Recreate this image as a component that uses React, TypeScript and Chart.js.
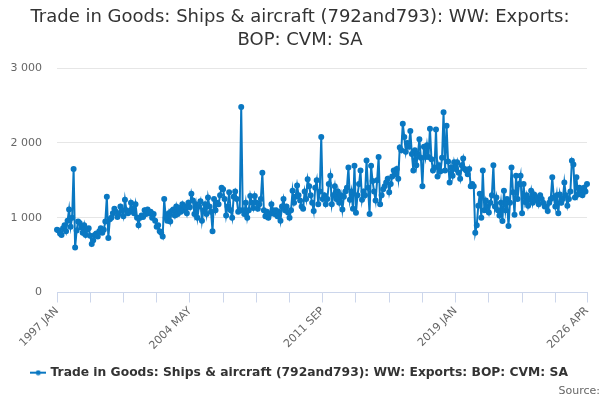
import { useEffect, useRef } from 'react';
import Chart from 'chart.js/auto';

const FONT = '"DejaVu Sans", sans-serif';
const LINE = '#0a78c2';
const AXIS = '#666666';
const GRID = '#e6e6e6';

const MONTHS = ['JAN', 'FEB', 'MAR', 'APR', 'MAY', 'JUN', 'JUL', 'AUG', 'SEP', 'OCT', 'NOV', 'DEC'];
const FIRST_YEAR = 1997;
const LAST_YEAR = 2026;
const LAST_MONTHS = 4; // 2026 runs to APR
const LABELLED = ['1997 JAN', '2004 MAY', '2011 SEP', '2019 JAN', '2026 APR'];
const Y_TICKS = [0, 1000, 2000, 3000];

// monthly values, £m, one row per year
const V1997 = [840, 830, 790, 770, 860, 900, 820, 960, 1110, 880, 1000, 1650];
const V1998 = [600, 830, 950, 930, 870, 800, 900, 770, 840, 860, 760, 650];
const V1999 = [700, 770, 790, 750, 820, 860, 800, 840, 950, 1280, 730, 980];
const V2000 = [1000, 1060, 1120, 1080, 1010, 1050, 1150, 1100, 1020, 1240, 1100, 1060];
const V2001 = [1080, 1200, 1120, 1060, 1180, 1000, 900, 1000, 1030, 1010, 1100, 1050];
const V2002 = [1110, 1060, 1080, 1000, 1050, 960, 880, 900, 820, 800, 750, 1250];
const V2003 = [1000, 960, 1060, 950, 1090, 1110, 1030, 1150, 1050, 1130, 1080, 1180];
const V2004 = [1100, 1150, 1060, 1200, 1140, 1320, 1230, 1050, 1180, 1000, 1150, 1220];
const V2005 = [960, 1100, 1180, 1050, 1270, 1150, 1080, 820, 1250, 1100, 1200, 1180];
const V2006 = [1300, 1400, 1380, 1250, 1030, 1150, 1340, 1100, 1000, 1280, 1350, 1250];
const V2007 = [1080, 1100, 2480, 1100, 1050, 1200, 1000, 1100, 1290, 1200, 1130, 1290];
const V2008 = [1200, 1120, 1180, 1250, 1600, 1100, 1020, 1080, 1000, 1050, 1180, 1100];
const V2009 = [1050, 1100, 1020, 1080, 960, 1150, 1250, 1100, 1150, 1070, 1000, 1100];
const V2010 = [1360, 1200, 1280, 1430, 1300, 1230, 1150, 1120, 1350, 1250, 1515, 1420];
const V2011 = [1300, 1200, 1090, 1400, 1500, 1180, 1350, 2080, 1250, 1300, 1180, 1250];
const V2012 = [1450, 1560, 1180, 1300, 1420, 1250, 1350, 1200, 1300, 1110, 1280, 1350];
const V2013 = [1400, 1670, 1240, 1350, 1120, 1695, 1065, 1300, 1450, 1630, 1240, 1350];
const V2014 = [1300, 1765, 1400, 1050, 1695, 1490, 1350, 1230, 1500, 1810, 1180, 1300];
const V2015 = [1380, 1420, 1470, 1520, 1340, 1450, 1550, 1630, 1580, 1650, 1520, 1940];
const V2016 = [1900, 2255, 2080, 1880, 2000, 1950, 2160, 1850, 1630, 1900, 1700, 1850];
const V2017 = [2050, 1800, 1420, 1950, 1810, 1970, 1810, 2190, 1780, 1630, 1670, 2180];
const V2018 = [1550, 1700, 1620, 1800, 2410, 1630, 2230, 1750, 1470, 1670, 1560, 1740];
const V2019 = [1650, 1740, 1600, 1520, 1700, 1790, 1650, 1630, 1580, 1650, 1420, 1450];
const V2020 = [1420, 800, 900, 1160, 1320, 1000, 1630, 1100, 1230, 1150, 1070, 1200];
const V2021 = [1300, 1700, 1150, 1270, 1100, 1030, 1200, 955, 1360, 1100, 1250, 890];
const V2022 = [1200, 1670, 1340, 1040, 1560, 1250, 1450, 1560, 1060, 1450, 1210, 1300];
const V2023 = [1160, 1250, 1360, 1200, 1310, 1230, 1270, 1180, 1300, 1250, 1200, 1150];
const V2024 = [1150, 1090, 1200, 1250, 1540, 1270, 1150, 1300, 1060, 1310, 1200, 1250];
const V2025 = [1470, 1300, 1160, 1250, 1350, 1760, 1710, 1270, 1540, 1310, 1400, 1350];
const V2026 = [1300, 1400, 1350, 1450];

const VALUES = [
  ...V1997, ...V1998, ...V1999, ...V2000, ...V2001, ...V2002, ...V2003, ...V2004,
  ...V2005, ...V2006, ...V2007, ...V2008, ...V2009, ...V2010, ...V2011, ...V2012,
  ...V2013, ...V2014, ...V2015, ...V2016, ...V2017, ...V2018, ...V2019, ...V2020,
  ...V2021, ...V2022, ...V2023, ...V2024, ...V2025, ...V2026,
];

const LABELS: string[] = [];
for (let y = FIRST_YEAR; y <= LAST_YEAR; y++) {
  const n = y === LAST_YEAR ? LAST_MONTHS : 12;
  for (let m = 0; m < n; m++) LABELS.push(`${y} ${MONTHS[m]}`);
}

const SERIES = 'Trade in Goods: Ships & aircraft (792and793): WW: Exports: BOP: CVM: SA';
const TICK_EVERY = 22;

// legend symbol: short line with a dot, like the series
function legendSymbol() {
  const c = document.createElement('canvas');
  c.width = 16;
  c.height = 6;
  const g = c.getContext('2d')!;
  g.strokeStyle = LINE;
  g.lineWidth = 2;
  g.beginPath();
  g.moveTo(0, 3);
  g.lineTo(16, 3);
  g.stroke();
  g.fillStyle = LINE;
  g.beginPath();
  g.arc(8, 3, 2.5, 0, Math.PI * 2);
  g.fill();
  return c;
}

export default function App() {
  const ref = useRef<HTMLCanvasElement | null>(null);

  useEffect(() => {
    document.body.style.margin = '0';
    const ctx = ref.current;
    if (!ctx) return;
    const last = LABELS.length - 1;
    const symbol = legendSymbol();

    const chart = new Chart(ctx, {
      type: 'line',
      data: {
        labels: LABELS,
        datasets: [
          {
            label: SERIES,
            data: VALUES,
            borderColor: LINE,
            backgroundColor: LINE,
            borderWidth: 2,
            pointRadius: 2,
            pointHoverRadius: 3,
            tension: 0,
          },
        ],
      },
      options: {
        animation: false,
        responsive: false,
        layout: { padding: { left: 0, right: 0, top: 0, bottom: 2 } },
        scales: {
          x: {
            type: 'category',
            afterBuildTicks: (scale) => {
              scale.ticks = scale.ticks.filter((t) => t.value % TICK_EVERY === 0 || t.value === last);
            },
            afterFit: (scale) => {
              scale.height = 74;
              scale.paddingRight = 13;
            },
            ticks: {
              autoSkip: false,
              maxRotation: 45,
              minRotation: 45,
              color: AXIS,
              font: { family: FONT, size: 11 },
              padding: 2,
              callback: (v) => {
                const l = LABELS[v as number];
                return LABELLED.includes(l) ? l : '';
              },
            },
            grid: {
              drawOnChartArea: false,
              drawTicks: true,
              tickLength: 10,
              tickColor: '#ccd6eb',
            },
            border: { display: true, color: '#ccd6eb', width: 1 },
          },
          y: {
            min: 0,
            max: 3000,
            afterBuildTicks: (scale) => {
              scale.ticks = Y_TICKS.map((v) => ({ value: v }));
            },
            afterFit: (scale) => {
              scale.width = 57;
            },
            ticks: {
              color: AXIS,
              font: { family: FONT, size: 11 },
              padding: 15,
              callback: (v) => String(v).replace(/\B(?=(\d{3})+(?!\d))/g, ' '),
            },
            grid: { color: GRID, drawTicks: false },
            border: { display: false },
          },
        },
        plugins: {
          title: {
            display: true,
            text: ['Trade in Goods: Ships & aircraft (792and793): WW: Exports:', 'BOP: CVM: SA'],
            color: '#333333',
            font: { family: FONT, size: 18, weight: 'normal', lineHeight: 1.28 },
            padding: { top: 5.5, bottom: 16.5 },
          },
          subtitle: {
            display: true,
            position: 'bottom',
            align: 'end',
            text: 'Source:',
            color: '#666666',
            font: { family: FONT, size: 11, weight: 'normal' },
            padding: { top: -4, bottom: 0 },
          },
          legend: {
            position: 'bottom',
            labels: {
              color: '#333333',
              font: { family: FONT, size: 12.3, weight: 'bold' },
              usePointStyle: true,
              boxWidth: 16,
              boxHeight: 6,
              padding: 0,
              generateLabels: () => [
                {
                  text: SERIES,
                  fillStyle: LINE,
                  strokeStyle: LINE,
                  lineWidth: 0,
                  pointStyle: symbol,
                  hidden: false,
                  datasetIndex: 0,
                  fontColor: '#333333',
                },
              ],
            },
          },
          tooltip: { enabled: false },
        },
      },
    });

    return () => chart.destroy();
  }, []);

  return (
    <div style={{ width: 600, height: 400 }}>
      <canvas ref={ref} width={600} height={400} style={{ width: 600, height: 400 }} />
    </div>
  );
}
